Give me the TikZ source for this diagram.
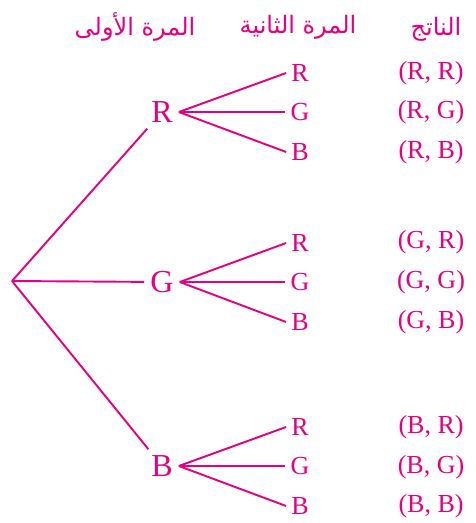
\documentclass[tikz,border=0pt]{standalone}
\usepackage{fontspec}
\setmainfont{Liberation Serif}
\newfontfamily\arabicfont[Script=Arabic]{DejaVu Sans}
\TeXXeTstate=1
\usepackage{tikz}
\usepackage{xcolor}
\definecolor{treepink}{RGB}{230,0,126}

\tikzset{
    branch/.style={line width=1.9pt, treepink},
    first/.style={text=treepink, font=\fontsize{32}{34}\selectfont, inner sep=6pt},
    second/.style={text=treepink, font=\fontsize{26}{28}\selectfont, inner sep=5pt},
    outcome/.style={text=treepink, font=\fontsize{26}{28}\selectfont, inner sep=0pt},
    head/.style={text=treepink, font=\arabicfont\fontsize{24}{26}\selectfont, inner sep=0pt}
}

\begin{document}
\begin{tikzpicture}[x=1pt, y=-1pt]

\useasboundingbox (0,0) rectangle (475,523);


% Titols

\node[head] (head1) at (135,27) {\beginR المرة الأولى\endR};
\node[head] (head2) at (298,27) {\beginR المرة الثانية\endR};
\node[head] (head3) at (436,29) {\beginR الناتج\endR};


% Primera extraccio

\coordinate (root) at (12,281);

\node[first] (r) at (162,112) {R};
\node[first] (g) at (162,282) {G};
\node[first] (b) at (162,466) {B};

\draw[branch] (root) -- (r);
\draw[branch] (root) -- (g);
\draw[branch] (root) -- (b);


% Segona extraccio

\foreach \p/\y in {r/112, g/282, b/466} {
    \node[second] (\p r) at (300,\y-39) {R};
    \node[second] (\p g) at (300,\y) {G};
    \node[second] (\p b) at (300,\y+40) {B};
    \draw[branch] (\p.east) -- (\p r.west);
    \draw[branch] (\p.east) -- (\p g.west);
    \draw[branch] (\p.east) -- (\p b.west);
}


% Resultats

\node[outcome] (orr) at (431,73) {(R, R)};
\node[outcome] (org) at (431,112) {(R, G)};
\node[outcome] (orb) at (431,152) {(R, B)};

\node[outcome] (ogr) at (431,242) {(G, R)};
\node[outcome] (ogg) at (431,282) {(G, G)};
\node[outcome] (ogb) at (431,322) {(G, B)};

\node[outcome] (obr) at (431,427) {(B, R)};
\node[outcome] (obg) at (431,467) {(B, G)};
\node[outcome] (obb) at (431,506) {(B, B)};

\end{tikzpicture}
\end{document}
